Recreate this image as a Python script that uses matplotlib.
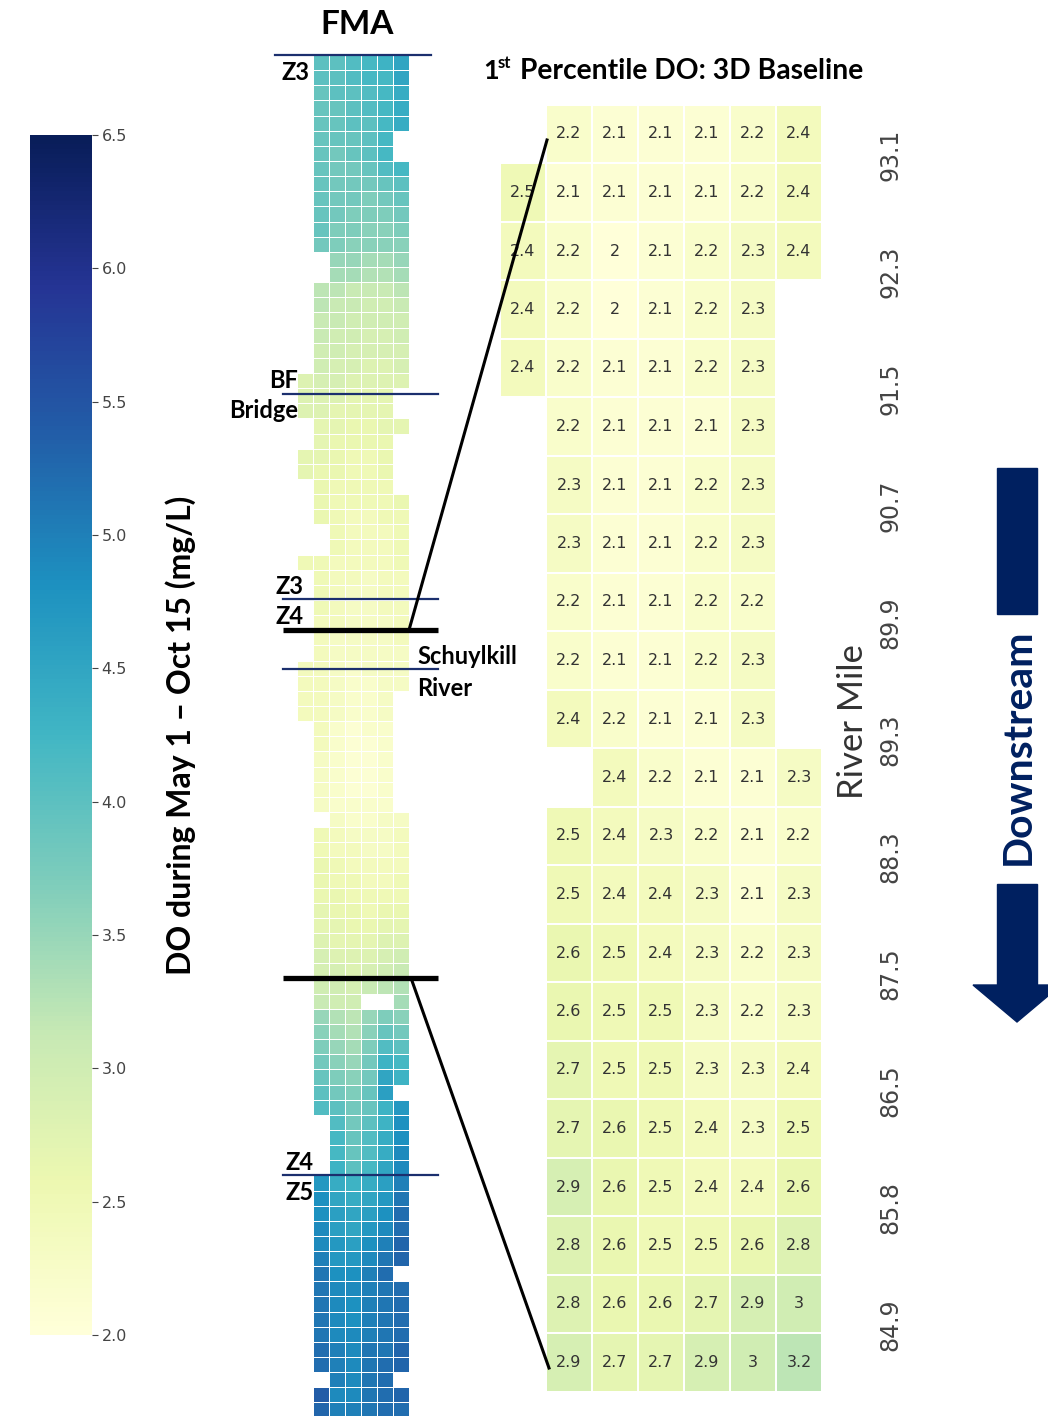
import numpy as np
import matplotlib
matplotlib.use("Agg")
import matplotlib.pyplot as plt
from matplotlib.colors import Normalize
from matplotlib.cm import ScalarMappable
from matplotlib.patches import Polygon, Rectangle

W, H = 1048, 1416

# shared colour scale (mg/L)
vmin, vmax = 2.0, 6.5
cbar_ticks = [2.0, 2.5, 3.0, 3.5, 4.0, 4.5, 5.0, 5.5, 6.0, 6.5]

# FMA strip, one row per model cell down the river, "-" = no cell
fma_rows = [
    "-   4.0 4.0 4.1 4.2 4.3 4.5",
    "-   4.0 4.0 4.1 4.2 4.2 4.5",
    "-   3.9 4.0 4.0 4.1 4.2 4.4",
    "-   3.9 3.9 4.0 4.1 4.2 4.4",
    "-   3.9 3.9 4.0 4.0 4.2 4.4",
    "-   3.9 3.9 3.9 4.0 4.2 -",
    "-   3.9 3.8 3.9 4.0 4.2 -",
    "-   3.9 3.8 3.8 3.9 4.1 4.2",
    "-   3.9 3.8 3.8 3.8 3.9 4.0",
    "-   3.9 3.8 3.8 3.7 3.8 3.9",
    "-   3.9 3.8 3.7 3.7 3.7 3.8",
    "-   3.9 3.7 3.7 3.6 3.6 3.7",
    "-   3.8 3.7 3.6 3.6 3.6 3.6",
    "-   -   3.5 3.5 3.4 3.4 3.5",
    "-   -   3.4 3.4 3.3 3.3 3.4",
    "-   3.2 3.2 3.1 3.1 3.1 3.2",
    "-   3.2 3.1 3.1 3.0 3.0 3.1",
    "-   3.1 3.1 3.0 3.0 3.0 3.0",
    "-   3.1 3.0 3.0 2.9 2.9 3.0",
    "-   3.0 3.0 2.9 2.9 2.9 2.9",
    "-   3.0 2.9 2.9 2.8 2.8 2.9",
    "2.8 2.9 2.9 2.8 2.8 2.8 2.8",
    "2.8 2.8 2.8 2.7 2.7 2.7 -",
    "2.8 2.8 2.7 2.7 2.7 2.7 -",
    "-   2.7 2.7 2.6 2.6 2.7 2.7",
    "-   2.7 2.6 2.6 2.6 2.6 -",
    "2.7 2.7 2.6 2.5 2.5 2.6 -",
    "2.7 2.6 2.6 2.5 2.5 2.6 -",
    "-   2.6 2.5 2.5 2.5 2.5 -",
    "-   2.6 2.5 2.5 2.5 2.5 2.6",
    "-   2.6 2.5 2.4 2.4 2.5 2.5",
    "-   -   2.5 2.4 2.4 2.4 2.5",
    "-   -   2.5 2.4 2.4 2.4 2.5",
    "2.5 2.5 2.4 2.4 2.4 2.4 2.5",
    "-   2.5 2.4 2.4 2.3 2.4 2.4",
    "-   2.5 2.4 2.3 2.3 2.4 2.4",
    "-   2.5 2.4 2.3 2.3 2.4 2.4",
    "-   2.4 2.4 2.3 2.3 2.3 2.4",
    "-   2.4 2.3 2.3 2.3 2.3 2.4",
    "-   2.4 2.3 2.3 2.3 2.3 2.3",
    "2.4 2.4 2.3 2.2 2.3 2.3 2.3",
    "2.4 2.4 2.3 2.2 2.2 2.3 2.3",
    "2.4 2.4 2.3 2.2 2.2 2.3 -",
    "2.4 2.4 2.3 2.2 2.2 2.3 -",
    "-   2.4 2.2 2.1 2.2 2.2 -",
    "-   2.4 2.2 2.1 2.1 2.2 -",
    "-   2.3 2.2 2.1 2.1 2.2 -",
    "-   2.3 2.2 2.1 2.1 2.2 -",
    "-   2.3 2.2 2.1 2.1 2.2 -",
    "-   2.3 2.2 2.2 2.2 2.2 -",
    "-   -   2.3 2.2 2.2 2.3 2.3",
    "-   2.5 2.4 2.3 2.3 2.3 2.4",
    "-   2.5 2.4 2.4 2.3 2.3 2.4",
    "-   2.6 2.5 2.4 2.4 2.4 2.4",
    "-   2.6 2.5 2.5 2.4 2.4 2.5",
    "-   2.6 2.6 2.5 2.5 2.5 2.5",
    "-   2.7 2.6 2.6 2.5 2.6 2.6",
    "-   2.7 2.7 2.6 2.6 2.7 2.7",
    "-   2.8 2.7 2.7 2.7 2.8 2.8",
    "-   2.9 2.8 2.8 2.8 2.9 3.0",
    "-   2.9 2.9 2.8 2.9 3.0 3.1",
    "-   3.0 3.0 2.9 3.1 3.2 3.3",
    "-   3.1 3.0 3.0 -   -   3.4",
    "-   3.5 3.3 3.2 3.5 3.7 3.6",
    "-   3.6 3.4 3.3 3.6 3.9 3.8",
    "-   3.7 3.5 3.4 3.7 4.1 4.0",
    "-   3.8 3.6 3.5 3.8 4.3 4.2",
    "-   3.9 3.7 3.6 3.8 4.5 4.3",
    "-   4.0 3.8 3.7 3.9 4.6 -",
    "-   4.1 4.0 3.8 3.9 4.3 4.7",
    "-   -   4.1 3.8 4.0 4.3 4.8",
    "-   -   4.2 3.9 4.1 4.4 4.8",
    "-   -   4.2 3.9 4.1 4.4 4.9",
    "-   -   4.3 4.0 4.2 4.5 4.9",
    "-   4.7 4.4 4.3 4.4 4.6 5.0",
    "-   4.8 4.5 4.4 4.5 4.7 5.1",
    "-   4.8 4.6 4.5 4.6 4.8 5.2",
    "-   4.9 4.6 4.5 4.7 4.9 5.2",
    "-   4.9 4.7 4.6 4.8 5.0 5.3",
    "-   5.0 4.7 4.7 4.9 5.1 5.3",
    "-   5.1 4.8 4.8 5.0 5.2 -",
    "-   5.1 4.9 4.9 5.0 5.1 5.2",
    "-   5.1 4.9 4.8 5.0 5.1 5.2",
    "-   5.1 4.9 4.8 5.0 5.1 5.2",
    "-   5.1 4.9 4.9 5.0 5.1 5.2",
    "-   5.2 5.0 4.9 5.1 5.1 5.3",
    "-   5.2 5.0 4.9 5.1 5.2 5.3",
    "-   -   5.0 4.9 5.1 5.2 -",
    "-   5.4 4.9 4.9 5.1 5.2 5.3",
    "-   5.3 5.0 5.0 5.1 5.2 5.2",
]

# 1st percentile DO, 3D baseline (zoomed reach)
p1_rows = [
    "-   2.2 2.1 2.1 2.1 2.2 2.4",
    "2.5 2.1 2.1 2.1 2.1 2.2 2.4",
    "2.4 2.2 2.0 2.1 2.2 2.3 2.4",
    "2.4 2.2 2.0 2.1 2.2 2.3 -",
    "2.4 2.2 2.1 2.1 2.2 2.3 -",
    "-   2.2 2.1 2.1 2.1 2.3 -",
    "-   2.3 2.1 2.1 2.2 2.3 -",
    "-   2.3 2.1 2.1 2.2 2.3 -",
    "-   2.2 2.1 2.1 2.2 2.2 -",
    "-   2.2 2.1 2.1 2.2 2.3 -",
    "-   2.4 2.2 2.1 2.1 2.3 -",
    "-   -   2.4 2.2 2.1 2.1 2.3",
    "-   2.5 2.4 2.3 2.2 2.1 2.2",
    "-   2.5 2.4 2.4 2.3 2.1 2.3",
    "-   2.6 2.5 2.4 2.3 2.2 2.3",
    "-   2.6 2.5 2.5 2.3 2.2 2.3",
    "-   2.7 2.5 2.5 2.3 2.3 2.4",
    "-   2.7 2.6 2.5 2.4 2.3 2.5",
    "-   2.9 2.6 2.5 2.4 2.4 2.6",
    "-   2.8 2.6 2.5 2.5 2.6 2.8",
    "-   2.8 2.6 2.6 2.7 2.9 3.0",
    "-   2.9 2.7 2.7 2.9 3.0 3.2",
]
river_miles = ["93.1", "92.3", "91.5", "90.7", "89.9", "89.3",
               "88.3", "87.5", "86.5", "85.8", "84.9"]


def parse(rows):
    return np.array([[np.nan if v == "-" else float(v) for v in r.split()]
                     for r in rows])


fma = parse(fma_rows)
p1 = parse(p1_rows)

cmap = plt.get_cmap("YlGnBu")
norm = Normalize(vmin=vmin, vmax=vmax)
bold = dict(family="Lato", weight="bold", color="black")


def fig_box(x0, y0, x1, y1):
    # pixel box -> figure fraction
    return [x0 / W, 1 - y1 / H, (x1 - x0) / W, (y1 - y0) / H]


fig = plt.figure(figsize=(W / 100, H / 100), dpi=100)

# colour bar
cax = fig.add_axes(fig_box(30, 135, 92, 1335))
cb = fig.colorbar(ScalarMappable(norm=norm, cmap=cmap), cax=cax, ticks=cbar_ticks)
cb.outline.set_visible(False)
cb.ax.set_yticklabels([f"{t:.1f}" for t in cbar_ticks])
cax.tick_params(labelsize=11.5, colors="#444444", length=4, width=0.8, pad=3)

# FMA strip
ax_f = fig.add_axes(fig_box(297, 55, 409, 55 + 15.14 * fma.shape[0]))
ax_f.pcolormesh(np.ma.masked_invalid(fma), cmap=cmap, norm=norm,
                edgecolors="white", linewidth=0.6)
ax_f.set_xlim(0, fma.shape[1])
ax_f.set_ylim(fma.shape[0], 0)
ax_f.axis("off")

# zoomed 1st percentile table
ax_p = fig.add_axes(fig_box(500, 104.75, 822, 104.75 + 58.5 * p1.shape[0]))
ax_p.pcolormesh(np.ma.masked_invalid(p1), cmap=cmap, norm=norm,
                edgecolors="white", linewidth=1.2)
for i in range(p1.shape[0]):
    for j in range(p1.shape[1]):
        if not np.isnan(p1[i, j]):
            ax_p.text(j + 0.5, i + 0.5, f"{p1[i, j]:g}", ha="center", va="center",
                      fontsize=11.5, color="#333333")
for k, rm in enumerate(river_miles):
    ax_p.text(8.48, 2 * k + 0.86, rm, rotation=90, ha="center", va="center",
              fontsize=17, color="#444444", clip_on=False)
ax_p.set_xlim(0, p1.shape[1])
ax_p.set_ylim(p1.shape[0], 0)
ax_p.axis("off")

# annotation layer in pixel coordinates
ov = fig.add_axes([0, 0, 1, 1])
ov.set_xlim(0, W)
ov.set_ylim(H, 0)
ov.axis("off")
ov.patch.set_alpha(0)

navy = "#1b2f6e"
ov.plot([275, 431], [55, 55], color=navy, lw=1.6)
for y in [394, 599, 669, 1175]:
    ov.plot([283, 438], [y, y], color=navy, lw=1.6)
for y in [630, 978]:
    ov.plot([283, 438], [y, y], color="black", lw=3.8, solid_capstyle="butt")
ov.plot([409, 547], [630, 140], color="black", lw=2.2)
ov.plot([411, 549], [978, 1368], color="black", lw=2.2)

ov.text(357, 25, "FMA", ha="center", va="center", fontsize=24, **bold)
ov.text(483, 79, "1", ha="left", va="baseline", fontsize=19.5, **bold)
ov.text(498, 68, "st", ha="left", va="baseline", fontsize=12, **bold)
ov.text(520, 79, "Percentile DO: 3D Baseline", ha="left", va="baseline",
        fontsize=20.3, **bold)

zfs = 17
ov.text(295, 72, "Z3", ha="center", va="center", fontsize=zfs, **bold)
ov.text(298, 380, "BF", ha="right", va="center", fontsize=zfs, **bold)
ov.text(298, 411, "Bridge", ha="right", va="center", fontsize=zfs, **bold)
ov.text(290, 586, "Z3", ha="center", va="center", fontsize=zfs, **bold)
ov.text(290, 617, "Z4", ha="center", va="center", fontsize=zfs, **bold)
ov.text(417, 657, "Schuylkill", ha="left", va="center", fontsize=zfs, **bold)
ov.text(417, 688, "River", ha="left", va="center", fontsize=zfs, **bold)
ov.text(300, 1162, "Z4", ha="center", va="center", fontsize=zfs, **bold)
ov.text(300, 1193, "Z5", ha="center", va="center", fontsize=zfs, **bold)

ov.text(181, 735, "DO during May 1 \u2013 Oct 15 (mg/L)", rotation=90,
        ha="center", va="center", fontsize=23, **bold)
ov.text(853, 722, "River Mile", rotation=90, ha="center", va="center",
        fontsize=25, family="Lato", color="#333333")

# downstream arrow
arrow_c = "#002060"
ov.add_patch(Rectangle((997, 468), 40, 146, color=arrow_c))
ov.add_patch(Rectangle((997, 884), 40, 102, color=arrow_c))
ov.add_patch(Polygon([(973, 985), (1061, 985), (1017, 1022)], closed=True,
                     color=arrow_c))
ov.text(1018, 747, "Downstream", rotation=90, ha="center", va="center",
        fontsize=29.5, family="Lato", weight="bold", color=arrow_c)

fig.savefig("out.png", dpi=100)
